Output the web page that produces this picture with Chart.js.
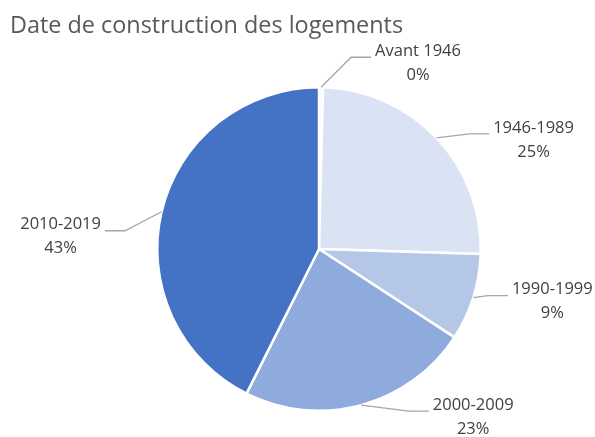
<!DOCTYPE html>
<html>
<head>
<meta charset="utf-8">
<script src="https://cdn.jsdelivr.net/npm/chart.js@4.4.1/dist/chart.umd.min.js"></script>
<style>
  html, body { margin: 0; padding: 0; background: #ffffff; }
  #wrap { width: 595px; height: 437px; position: relative; }
</style>
</head>
<body>
<div id="wrap"><canvas id="c" width="595" height="437"></canvas></div>
<script>
const chartTitle = "Date de construction des logements";
const categories = ["Avant 1946", "1946-1989", "1990-1999", "2000-2009", "2010-2019"];
const shares = [0.4, 25.1, 8.7, 23.2, 42.6];
const sliceColors = ["#F2F5FB", "#DAE3F3", "#B4C7E7", "#8FAADC", "#4472C4"];

// text-block centre offsets from each slice's outer mid-point (layout only)
const labelOffsets = [[97, -24], [97, 2], [79, 4], [112, 12], [-101, 25]];

const labelFont = '16.5px "Open Sans", sans-serif';
const titleFont = '23.4px "Open Sans", sans-serif';

const outsideLabels = {
  id: 'outsideLabels',
  afterDraw(chart) {
    const ctx = chart.ctx;
    const meta = chart.getDatasetMeta(0);
    const total = shares.reduce((a, b) => a + b, 0);
    ctx.save();
    // title
    ctx.font = titleFont;
    ctx.fillStyle = '#595959';
    ctx.textAlign = 'left';
    ctx.textBaseline = 'alphabetic';
    ctx.fillText(chartTitle, 10, 33);

    ctx.font = labelFont;
    meta.data.forEach((arc, i) => {
      const p = arc.getProps(['x', 'y', 'startAngle', 'endAngle', 'outerRadius'], true);
      const mid = (p.startAngle + p.endAngle) / 2;
      const ex = p.x + Math.cos(mid) * p.outerRadius;
      const ey = p.y + Math.sin(mid) * p.outerRadius;
      const cx = ex + labelOffsets[i][0];
      const cy = ey + labelOffsets[i][1];
      const l1 = categories[i];
      const l2 = Math.round(shares[i] / total * 100) + '%';
      const w = Math.max(ctx.measureText(l1).width, ctx.measureText(l2).width);
      const right = cx > ex;
      const textEdge = right ? cx - w / 2 - 4 : cx + w / 2 + 4;
      const ly = cy - 6;
      const hseg = Math.min(20, Math.abs(textEdge - ex) - 4);
      const elbowX = right ? textEdge - hseg : textEdge + hseg;
      ctx.strokeStyle = '#A6A6A6';
      ctx.lineWidth = 1.3;
      ctx.beginPath();
      ctx.moveTo(ex, ey);
      ctx.lineTo(elbowX, ly);
      ctx.lineTo(textEdge, ly);
      ctx.stroke();

      ctx.fillStyle = '#404040';
      ctx.textAlign = 'center';
      ctx.textBaseline = 'middle';
      ctx.fillText(l1, cx, cy - 12);
      ctx.fillText(l2, cx, cy + 12);
    });
    ctx.restore();
  }
};

new Chart(document.getElementById('c'), {
  type: 'pie',
  data: {
    labels: categories,
    datasets: [{
      data: shares,
      backgroundColor: sliceColors,
      borderColor: '#ffffff',
      borderWidth: 2.5
    }]
  },
  options: {
    responsive: false,
    animation: false,
    layout: { padding: { left: 156, right: 113, top: 86, bottom: 25 } },
    plugins: {
      legend: { display: false },
      title: { display: false },
      tooltip: { enabled: false }
    }
  },
  plugins: [outsideLabels]
});
</script>
</body>
</html>
